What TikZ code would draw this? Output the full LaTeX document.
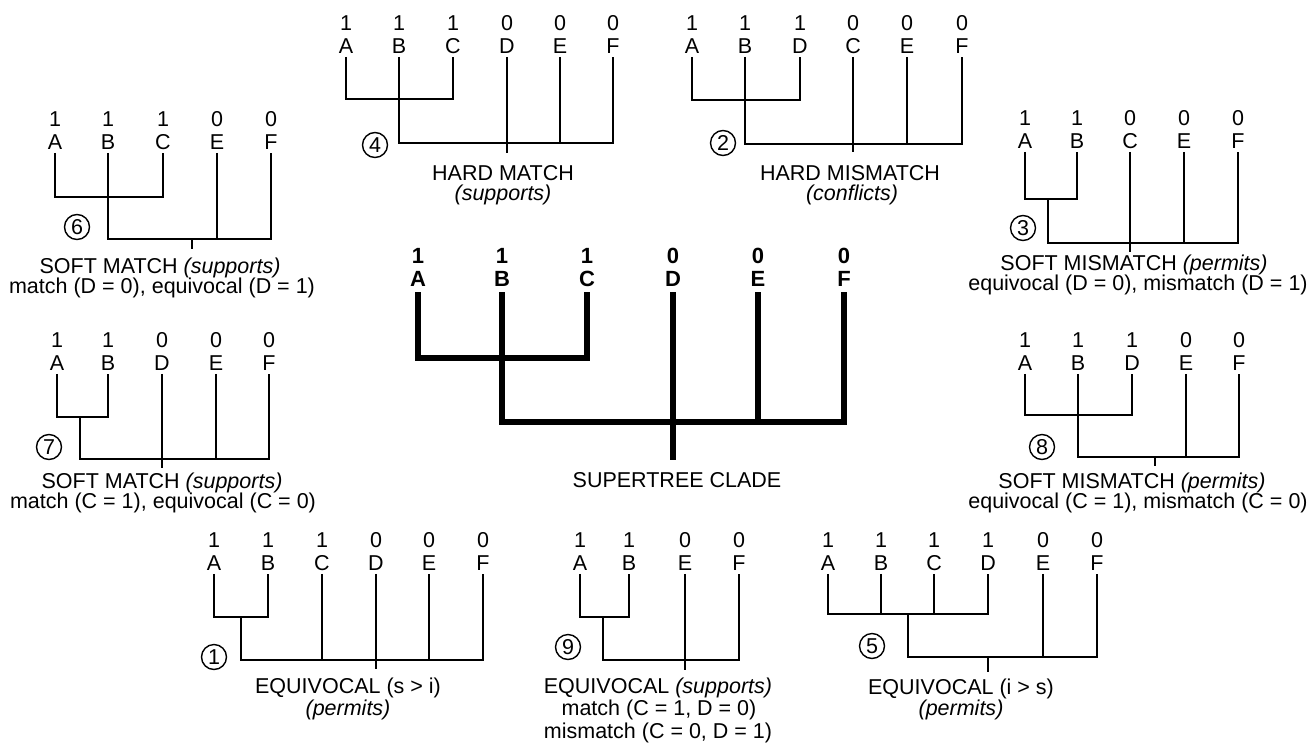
\documentclass[tikz,border=0pt]{standalone}
\usepackage{fontspec}
\setmainfont{Liberation Sans}
\newcommand\leafpair[6]{%
  \node[#6] (#1) at (#2,#3) {#5};
  \node[#6] (#1d) at (#2,#3-23) {#4};
}
\begin{document}
\begin{tikzpicture}[x=1pt,y=-1pt,
  tip/.style={inner xsep=1pt,inner ysep=3pt,text height=15.4pt,text depth=0pt,
    font=\fontsize{21.5}{24}\selectfont},
  boldtip/.style={inner xsep=1pt,inner ysep=5pt,text height=15.8pt,text depth=0pt,
    font=\fontsize{22}{26}\selectfont\bfseries},
  branch/.style={line width=1.8pt,line join=miter},
  trunk/.style={line width=6pt,line join=miter},
  caption/.style={anchor=base,inner sep=0pt,font=\fontsize{21.5}{24}\selectfont},
  tag/.style={draw,circle,line width=1.4pt,minimum size=25pt,inner sep=0pt,
    text height=15.4pt,text depth=0pt,font=\fontsize{21.5}{24}\selectfont}]
\useasboundingbox (0,0) rectangle (1313,744);

% ---- supertree clade (centre) ----
\leafpair{sA}{418}{279}{1}{A}{boldtip}
\leafpair{sB}{502}{279}{1}{B}{boldtip}
\leafpair{sC}{587}{279}{1}{C}{boldtip}
\leafpair{sD}{673}{279}{0}{D}{boldtip}
\leafpair{sE}{758}{279}{0}{E}{boldtip}
\leafpair{sF}{844}{279}{0}{F}{boldtip}
\coordinate (sn) at (502,358);
\coordinate (sr) at (673,422);
\coordinate (ss) at (673,460);
\draw[trunk] (sA.south) |- (sn) -| (sC.south);
\draw[trunk] (sB.south) |- (sr) -| (sF.south);
\draw[trunk] (sD.south) -- (ss);
\draw[trunk] (sE.south) -- (sE.south |- sr);
\node[caption] (scap) at (677,487) {SUPERTREE CLADE};

% ---- 4: hard match ----
\leafpair{hA}{346}{46}{1}{A}{tip}
\leafpair{hB}{399}{46}{1}{B}{tip}
\leafpair{hC}{453}{46}{1}{C}{tip}
\leafpair{hD}{507}{46}{0}{D}{tip}
\leafpair{hE}{560}{46}{0}{E}{tip}
\leafpair{hF}{613}{46}{0}{F}{tip}
\coordinate (hn) at (399,99);
\coordinate (hr) at (507,143);
\coordinate (hs) at (507,153);
\draw[branch] (hA.south) |- (hn) -| (hC.south);
\draw[branch] (hB.south) |- (hr) -| (hF.south);
\draw[branch] (hD.south) -- (hs);
\draw[branch] (hE.south) -- (hE.south |- hr);
\node[tag] (htag) at (375,145) {4};
\node[caption] (hcap) at (503,180) {HARD MATCH};
\node[caption] (hsub) at (503,200) {\textit{(supports)}};

% ---- 2: hard mismatch ----
\leafpair{mA}{692}{46}{1}{A}{tip}
\leafpair{mB}{745}{46}{1}{B}{tip}
\leafpair{mD}{800}{46}{1}{D}{tip}
\leafpair{mC}{853}{46}{0}{C}{tip}
\leafpair{mE}{907}{46}{0}{E}{tip}
\leafpair{mF}{962}{46}{0}{F}{tip}
\coordinate (mn) at (745,100);
\coordinate (mr) at (853,144);
\coordinate (ms) at (853,152);
\draw[branch] (mA.south) |- (mn) -| (mD.south);
\draw[branch] (mB.south) |- (mr) -| (mF.south);
\draw[branch] (mC.south) -- (ms);
\draw[branch] (mE.south) -- (mE.south |- mr);
\node[tag] (mtag) at (723,143) {2};
\node[caption] (mcap) at (850,180) {HARD MISMATCH};
\node[caption] (msub) at (852,200) {\textit{(conflicts)}};

% ---- 6: soft match ----
\leafpair{fA}{55}{142}{1}{A}{tip}
\leafpair{fB}{108}{142}{1}{B}{tip}
\leafpair{fC}{163}{142}{1}{C}{tip}
\leafpair{fE}{217}{142}{0}{E}{tip}
\leafpair{fF}{271}{142}{0}{F}{tip}
\coordinate (fn) at (108,197);
\coordinate (fr) at (192,239);
\coordinate (fs) at (192,249);
\draw[branch] (fA.south) |- (fn) -| (fC.south);
\draw[branch] (fB.south) |- (fr) -| (fF.south);
\draw[branch] (fr) -- (fs);
\draw[branch] (fE.south) -- (fE.south |- fr);
\node[tag] (ftag) at (77,227) {6};
\node[caption] (fcap) at (160,273) {SOFT MATCH \textit{(supports)}};
\node[caption] (fsub) at (162,293) {match (D = 0), equivocal (D = 1)};

% ---- 3: soft mismatch ----
\leafpair{gA}{1025}{141}{1}{A}{tip}
\leafpair{gB}{1077}{141}{1}{B}{tip}
\leafpair{gC}{1130}{141}{0}{C}{tip}
\leafpair{gE}{1184}{141}{0}{E}{tip}
\leafpair{gF}{1238}{141}{0}{F}{tip}
\coordinate (gn) at (1048,199);
\coordinate (gr) at (1130,243);
\coordinate (gs) at (1130,252);
\draw[branch] (gA.south) |- (gn) -| (gB.south);
\draw[branch] (gn) |- (gr) -| (gF.south);
\draw[branch] (gC.south) -- (gs);
\draw[branch] (gE.south) -- (gE.south |- gr);
\node[tag] (gtag) at (1023,228) {3};
\node[caption] (gcap) at (1134,270) {SOFT MISMATCH \textit{(permits)}};
\node[caption] (gsub) at (1138,290) {equivocal (D = 0), mismatch (D = 1)};

% ---- 7: soft match ----
\leafpair{kA}{57}{363}{1}{A}{tip}
\leafpair{kB}{108}{363}{1}{B}{tip}
\leafpair{kD}{162}{363}{0}{D}{tip}
\leafpair{kE}{216}{363}{0}{E}{tip}
\leafpair{kF}{269}{363}{0}{F}{tip}
\coordinate (kn) at (80,417);
\coordinate (kr) at (162,459);
\coordinate (ks) at (162,468);
\draw[branch] (kA.south) |- (kn) -| (kB.south);
\draw[branch] (kn) |- (kr) -| (kF.south);
\draw[branch] (kD.south) -- (ks);
\draw[branch] (kE.south) -- (kE.south |- kr);
\node[tag] (ktag) at (49,447) {7};
\node[caption] (kcap) at (162,488) {SOFT MATCH \textit{(supports)}};
\node[caption] (ksub) at (163,508) {match (C = 1), equivocal (C = 0)};

% ---- 8: soft mismatch ----
\leafpair{pA}{1025}{363}{1}{A}{tip}
\leafpair{pB}{1078}{363}{1}{B}{tip}
\leafpair{pD}{1132}{363}{1}{D}{tip}
\leafpair{pE}{1186}{363}{0}{E}{tip}
\leafpair{pF}{1239}{363}{0}{F}{tip}
\coordinate (pn) at (1078,415);
\coordinate (pr) at (1155,457);
\coordinate (ps) at (1155,466);
\draw[branch] (pA.south) |- (pn) -| (pD.south);
\draw[branch] (pB.south) |- (pr) -| (pF.south);
\draw[branch] (pr) -- (ps);
\draw[branch] (pE.south) -- (pE.south |- pr);
\node[tag] (ptag) at (1042,447) {8};
\node[caption] (pcap) at (1132,488) {SOFT MISMATCH \textit{(permits)}};
\node[caption] (psub) at (1138,508) {equivocal (C = 1), mismatch (C = 0)};

% ---- 1: equivocal (s > i) ----
\leafpair{aA}{214}{563}{1}{A}{tip}
\leafpair{aB}{268}{563}{1}{B}{tip}
\leafpair{aC}{322}{563}{1}{C}{tip}
\leafpair{aD}{376}{563}{0}{D}{tip}
\leafpair{aE}{429}{563}{0}{E}{tip}
\leafpair{aF}{483}{563}{0}{F}{tip}
\coordinate (an) at (241,617);
\coordinate (ar) at (376,660);
\coordinate (as) at (376,669);
\draw[branch] (aA.south) |- (an) -| (aB.south);
\draw[branch] (an) |- (ar) -| (aF.south);
\draw[branch] (aC.south) -- (aC.south |- ar);
\draw[branch] (aD.south) -- (as);
\draw[branch] (aE.south) -- (aE.south |- ar);
\node[tag] (atag) at (214,657) {1};
\node[caption] (acap) at (348,693) {EQUIVOCAL (s > i)};
\node[caption] (asub) at (348,715) {\textit{(permits)}};

% ---- 9: equivocal (supports) ----
\leafpair{qA}{580}{563}{1}{A}{tip}
\leafpair{qB}{629}{563}{1}{B}{tip}
\leafpair{qE}{685}{563}{0}{E}{tip}
\leafpair{qF}{739}{563}{0}{F}{tip}
\coordinate (qn) at (603,617);
\coordinate (qr) at (685,660);
\coordinate (qs) at (685,670);
\draw[branch] (qA.south) |- (qn) -| (qB.south);
\draw[branch] (qn) |- (qr) -| (qF.south);
\draw[branch] (qE.south) -- (qs);
\node[tag] (qtag) at (568,647) {9};
\node[caption] (qcap) at (658,693) {EQUIVOCAL \textit{(supports)}};
\node[caption] (qsub) at (659,715) {match (C = 1, D = 0)};
\node[caption] (qsub2) at (658,738) {mismatch (C = 0, D = 1)};

% ---- 5: equivocal (i > s) ----
\leafpair{eA}{828}{563}{1}{A}{tip}
\leafpair{eB}{881}{563}{1}{B}{tip}
\leafpair{eC}{934}{563}{1}{C}{tip}
\leafpair{eD}{988}{563}{1}{D}{tip}
\leafpair{eE}{1043}{563}{0}{E}{tip}
\leafpair{eF}{1097}{563}{0}{F}{tip}
\coordinate (en) at (908,614);
\coordinate (er) at (988,657);
\coordinate (es) at (988,672);
\draw[branch] (eA.south) |- (en) -| (eD.south);
\draw[branch] (eB.south) -- (eB.south |- en);
\draw[branch] (eC.south) -- (eC.south |- en);
\draw[branch] (en) |- (er) -| (eF.south);
\draw[branch] (er) -- (es);
\draw[branch] (eE.south) -- (eE.south |- er);
\node[tag] (etag) at (872,646) {5};
\node[caption] (ecap) at (961,694) {EQUIVOCAL (i > s)};
\node[caption] (esub) at (961,715) {\textit{(permits)}};
\end{tikzpicture}
\end{document}
